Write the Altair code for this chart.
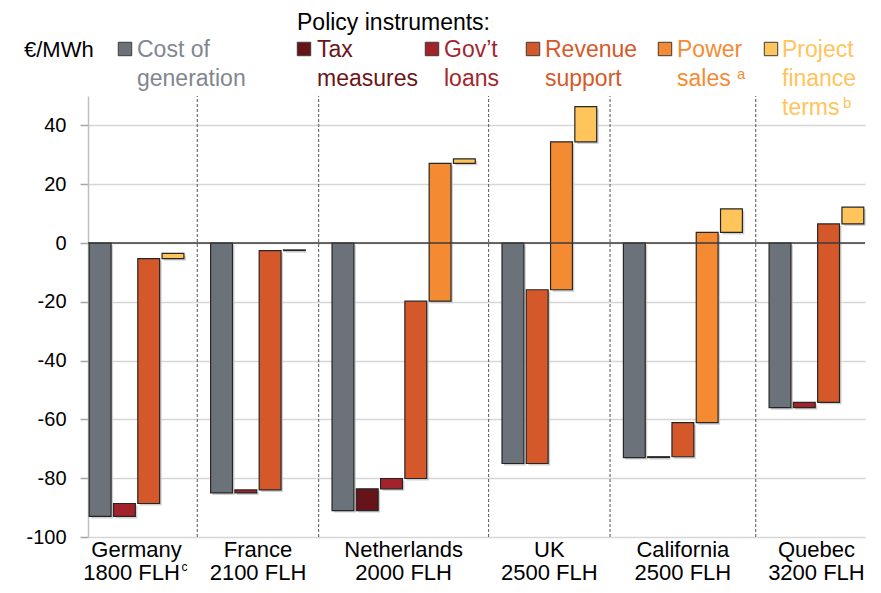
import altair as alt
import pandas as pd

# ---------------- data ----------------
regions = ["Germany", "France", "Netherlands", "UK", "California", "Quebec"]
flh = ["1800 FLH", "2100 FLH", "2000 FLH", "2500 FLH", "2500 FLH", "3200 FLH"]
flh_note = ["c", "", "", "", "", ""]
instruments = ["Cost of generation", "Tax measures", "Gov\u2019t loans",
               "Revenue support", "Power sales", "Project finance terms"]
legend_lines = [["Cost of", "generation"], ["Tax", "measures"], ["Gov\u2019t", "loans"],
                ["Revenue", "support"], ["Power", "sales"], ["Project", "finance", "terms"]]
legend_notes = ["", "", "", "", "a", "b"]

cost = [-93.0, -85.0, -91.0, -75.0, -73.0, -56.0]
tax = [None, None, 7.4, None, 0.3, None]
loans = [4.4, 1.0, 3.5, None, None, 1.8]
revenue = [83.3, 81.4, 60.3, 59.1, 11.6, 60.7]
power = [None, None, 46.9, 50.3, 64.7, None]
finance = [1.8, 0.25, 1.5, 12.0, 8.0, 5.7]
y_ticks = [-100, -80, -60, -40, -20, 0, 20, 40]

# ---------------- styles ----------------
FONT = "Liberation Sans"
bar_colors = ["#6b7279", "#66141a", "#a3232b", "#d4582a", "#f48b33", "#ffc45a"]
text_colors = ["#80878f", "#6b1519", "#a3262d", "#d4592b", "#f48b33", "#ffc45a"]

# ---------------- waterfall table ----------------
rows, divs, groups = [], [], []
slot = 1
series = [tax, loans, revenue, power, finance]
for i, r in enumerate(regions):
    first = slot
    rows.append(dict(region=r, instrument=instruments[0], slot=slot, lo=0.0, hi=cost[i]))
    level = cost[i]
    slot += 1
    for name, s in zip(instruments[1:], series):
        d = s[i]
        if d is None:
            continue
        rows.append(dict(region=r, instrument=name, slot=slot, lo=level, hi=level + d))
        level += d
        slot += 1
    groups.append(dict(region=r, flh=flh[i], note=flh_note[i], center=(first + slot - 1) / 2))
    if i < len(regions) - 1:
        divs.append(dict(slot=slot))
        slot += 1
n_slots = slot - 1

bars_df = pd.DataFrame(rows)
div_df = pd.DataFrame(divs)
grp_df = pd.DataFrame(groups)

W, H = 777, 441
x_scale = alt.Scale(domain=[0.5, n_slots + 0.5], nice=False, zero=False)
y_scale = alt.Scale(domain=[-100, 50], nice=False, zero=False)
y_axis = alt.Axis(values=y_ticks, title=None, grid=True, gridColor="#d6d6d6", gridWidth=1.5,
                  domainColor="#bfbfbf", domainWidth=1.5, tickColor="#a6a6a6", tickWidth=1.5,
                  tickSize=8, labelFontSize=20, labelFont=FONT, labelColor="#000000",
                  labelPadding=14, labelExpr="'' + datum.value")

base = alt.Chart(bars_df).transform_calculate(x0="datum.slot - 0.45", x1="datum.slot + 0.45")

shadow = base.mark_bar(color="#c4c4c4", opacity=0.8, xOffset=2, x2Offset=2, yOffset=2, y2Offset=2).encode(
    x=alt.X("x0:Q", scale=x_scale, axis=None),
    x2="x1:Q",
    y=alt.Y("lo:Q", scale=y_scale, axis=y_axis),
    y2="hi:Q",
)

bars = base.mark_bar(stroke="#262626", strokeWidth=1.2).encode(
    x=alt.X("x0:Q", scale=x_scale, axis=None),
    x2="x1:Q",
    y=alt.Y("lo:Q", scale=y_scale, axis=y_axis),
    y2="hi:Q",
    color=alt.Color("instrument:N", scale=alt.Scale(domain=instruments, range=bar_colors), legend=None),
)

dividers = alt.Chart(div_df).mark_rule(color="#555555", strokeDash=[3, 2], strokeWidth=1).encode(
    x=alt.X("slot:Q", scale=x_scale, axis=None),
    y=alt.datum(-100),
    y2=alt.datum(50),
)

zero = alt.Chart(pd.DataFrame({"v": [0]})).mark_rule(color="#3a3a3a", strokeWidth=1.5).encode(
    y=alt.Y("v:Q", scale=y_scale)
)

lab = alt.Chart(grp_df)
name_text = lab.mark_text(font=FONT, fontSize=22, baseline="alphabetic", dy=20, color="#000000").encode(
    x=alt.X("center:Q", scale=x_scale, axis=None), y=alt.datum(-100), text="region:N")
flh_plain = lab.transform_filter("datum.note == ''").mark_text(
    font=FONT, fontSize=22, baseline="alphabetic", dy=43, color="#000000").encode(
    x=alt.X("center:Q", scale=x_scale, axis=None), y=alt.datum(-100), text="flh:N")
flh_noted = lab.transform_filter("datum.note != ''").mark_text(
    font=FONT, fontSize=22, baseline="alphabetic", dy=43, dx=-5, color="#000000").encode(
    x=alt.X("center:Q", scale=x_scale, axis=None), y=alt.datum(-100), text="flh:N")
flh_sup = lab.transform_filter("datum.note != ''").mark_text(
    font=FONT, fontSize=12, baseline="alphabetic", align="left", dy=34, dx=45, color="#000000").encode(
    x=alt.X("center:Q", scale=x_scale, axis=None), y=alt.datum(-100), text="note:N")

# ---------------- legend (annotation layout, plot-relative pixels) ----------------
OX, OY = 88, 96  # plot origin on the page
sq_x = [125, 304, 432, 533, 665, 771]
tx_x = [137, 317, 444, 545, 677, 782]
sup_x = [None, None, None, None, 737, 843]
one = pd.DataFrame({"k": [0]})
legend_layers = []
legend_layers.append(alt.Chart(one).mark_text(font=FONT, fontSize=22, align="left", baseline="alphabetic",
                                              color="#000000").encode(
    x=alt.value(24 - OX), y=alt.value(57 - OY), text=alt.value("\u20ac/MWh")))
legend_layers.append(alt.Chart(one).mark_text(font=FONT, fontSize=23, align="left", baseline="alphabetic",
                                              color="#000000").encode(
    x=alt.value(297 - OX), y=alt.value(30 - OY), text=alt.value("Policy instruments:")))
for k in range(len(instruments)):
    legend_layers.append(alt.Chart(one).mark_square(size=180, filled=True, color=bar_colors[k],
                                                    stroke="#3a3a3a", strokeWidth=1, opacity=1).encode(
        x=alt.value(sq_x[k] - OX), y=alt.value(49 - OY)))
    legend_layers.append(alt.Chart(one).mark_text(font=FONT, fontSize=23, align="left", baseline="alphabetic",
                                                  lineHeight=29, color=text_colors[k]).encode(
        x=alt.value(tx_x[k] - OX), y=alt.value(57 - OY), text=alt.value(legend_lines[k])))
    if legend_notes[k]:
        line_base = 57 + 29 * (len(legend_lines[k]) - 1)
        legend_layers.append(alt.Chart(one).mark_text(font=FONT, fontSize=15, align="left",
                                                      baseline="alphabetic", color=text_colors[k]).encode(
            x=alt.value(sup_x[k] - OX), y=alt.value(line_base - 7 - OY), text=alt.value(legend_notes[k])))

chart = alt.layer(
    shadow, bars, dividers, zero, name_text, flh_plain, flh_noted, flh_sup, *legend_layers
).properties(
    width=W, height=H,
    padding={"left": 80, "top": 88, "right": 8, "bottom": 48},
    autosize=alt.AutoSizeParams(type="none"),
).configure_view(stroke=None)

chart.save("out.html", embed_options={"renderer": "svg", "actions": False})
